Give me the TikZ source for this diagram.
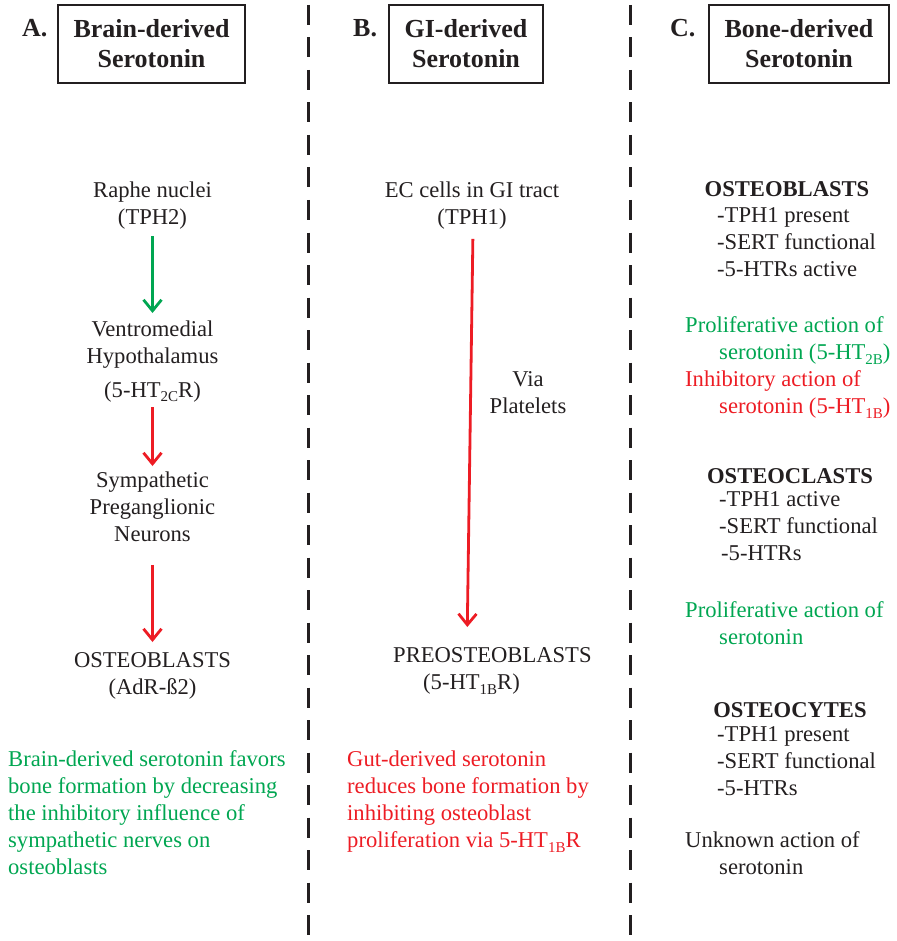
\documentclass[tikz,border=0pt]{standalone}
\usepackage{fontspec}
\setmainfont{Liberation Serif}
\usetikzlibrary{arrows.meta}
\definecolor{gr}{HTML}{00A651}
\definecolor{rd}{HTML}{ED1C24}
\definecolor{ink}{HTML}{231F20}
\newcommand\lowsub[1]{\raisebox{-4.5pt}{\fontsize{15}{15}\selectfont #1}}
\begin{document}
\begin{tikzpicture}[x=1pt,y=-1pt,
  font=\fontsize{22.6}{27}\selectfont, text=ink,
  lbl/.style={inner sep=0pt, align=center, anchor=north},
  lft/.style={inner sep=0pt, align=left, anchor=north west},
  hd/.style={inner sep=0pt, anchor=base, font=\fontsize{22.6}{27}\selectfont\bfseries},
  letter/.style={inner sep=0pt, anchor=base west, font=\fontsize{26}{30}\selectfont\bfseries},
  titlebox/.style={draw=ink, line width=1.5pt, minimum height=78pt, align=center, inner sep=0pt, font=\fontsize{26}{30}\selectfont\bfseries},
  sep/.style={draw=ink, line width=3pt, dash pattern=on 20pt off 12.5pt},
  arr/.style={line width=2.8pt, -{Straight Barb[length=11pt,width=18pt]}}
]
\useasboundingbox (0,0) rectangle (896,941);

% separators
\draw[sep] (308,5) -- (308,941);
\draw[sep] (630,5) -- (630,941);

% titles
\node[letter] (la) at (22,37) {A.};
\node[titlebox, minimum width=187pt] (ta) at (151.5,44) {Brain-derived\\Serotonin};
\node[letter] (lb) at (353,37) {B.};
\node[titlebox, minimum width=154pt] (tb) at (466,44) {GI-derived\\Serotonin};
\node[letter] (lc) at (670,37) {C.};
\node[titlebox, minimum width=180pt] (tc) at (799,44) {Bone-derived\\Serotonin};

% column A
\node[lbl] (raphe) at (152.5,182) {Raphe nuclei\\(TPH2)};
\node[lbl] (vmh) at (152.5,320.5) {Ventromedial\\Hypothalamus\\[7pt](5-HT\lowsub{2C}R)};
\node[lbl] (symp) at (152.5,471.5) {Sympathetic\\Preganglionic\\Neurons};
\node[lbl] (obA) at (152.5,652.5) {OSTEOBLASTS\\(AdR-ß2)};
\node[lft, text=gr] (txtA) at (8,750.5) {Brain-derived serotonin favors\\bone formation by decreasing\\the inhibitory influence of\\sympathetic nerves on\\osteoblasts};

\draw[arr, gr, shorten <=6.5pt, shorten >=7.5pt] (raphe.south) -- (vmh.north);
\draw[arr, rd, shorten <=5pt, shorten >=5.5pt] (vmh.south) -- (symp.north);
\draw[arr, rd, shorten <=23pt, shorten >=10.5pt] (symp.south) -- (obA.north);

% column B
\node[lbl] (ec) at (472,182) {EC cells in GI tract\\(TPH1)};
\node[lbl] (via) at (528,371.5) {Via\\Platelets};
\node[lft] (preo) at (393,647.5) {PREOSTEOBLASTS\\\hspace*{30pt}(5-HT\lowsub{1B}R)};
\node[lft, text=rd] (txtB) at (347,751) {Gut-derived serotonin\\reduces bone formation by\\inhibiting osteoblast\\proliferation via 5-HT\lowsub{1B}R};

\draw[arr, rd, shorten <=9pt, shorten >=20.5pt] ([xshift=1pt]ec.south) -- ([xshift=74pt]preo.north west);

% column C
\node[hd] (obh) at (787,197) {OSTEOBLASTS};
\node[lft] (obl) at (717,207.5) {-TPH1 present\\-SERT functional\\-5-HTRs active};
\node[lft, text=gr] (pro1) at (685,316.5) {Proliferative action of\\\hspace*{34pt}serotonin (5-HT\lowsub{2B})};
\node[lft, text=rd] (inh) at (685,370.5) {Inhibitory action of\\\hspace*{34pt}serotonin (5-HT\lowsub{1B})};

\node[hd] (och) at (790,483) {OSTEOCLASTS};
\node[lft] (ocl) at (719,491.5) {-TPH1 active\\-SERT functional\\\hspace*{2pt}-5-HTRs};
\node[lft, text=gr] (pro2) at (685,601.5) {Proliferative action of\\\hspace*{34pt}serotonin};

\node[hd] (oyh) at (790,717) {OSTEOCYTES};
\node[lft] (oyl) at (717,726.5) {-TPH1 present\\-SERT functional\\-5-HTRs};
\node[lft] (unk) at (685,831.5) {Unknown action of\\\hspace*{34pt}serotonin};
\end{tikzpicture}
\end{document}
